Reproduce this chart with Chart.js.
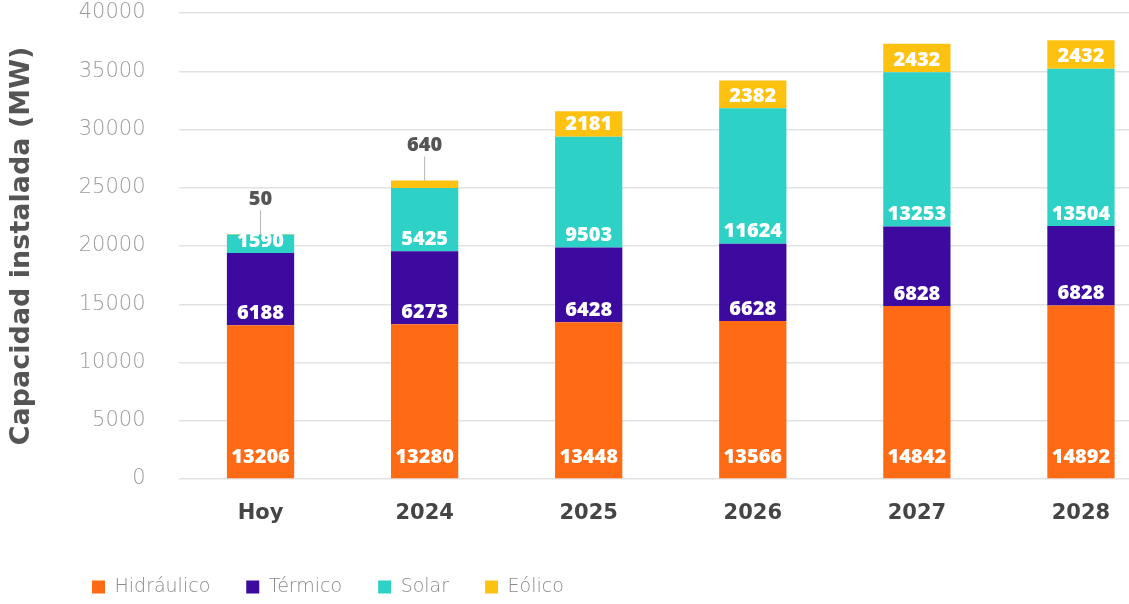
<!DOCTYPE html>
<html>
<head>
<meta charset="utf-8">
<script src="https://cdn.jsdelivr.net/npm/chart.js@4.4.1/dist/chart.umd.min.js"></script>
<style>
  html, body { margin: 0; padding: 0; background: #fff; overflow: hidden; }
  #wrap { position: relative; width: 1175px; height: 604px; }
</style>
</head>
<body>
<div id="wrap"><canvas id="c"></canvas></div>
<script>
const categories = ['Hoy', '2024', '2025', '2026', '2027', '2028'];
const hidraulico = [13206, 13280, 13448, 13566, 14842, 14892];
const termico    = [6188, 6273, 6428, 6628, 6828, 6828];
const solar      = [1590, 5425, 9503, 11624, 13253, 13504];
const eolico     = [50, 640, 2181, 2382, 2432, 2432];
const seriesNames = ['Hidráulico', 'Térmico', 'Solar', 'Eólico'];
const yTicks = [0, 5000, 10000, 15000, 20000, 25000, 30000, 35000, 40000];
const yTitle = 'Capacidad instalada (MW)';

const colors = ['#FF6A14', '#3C0A9F', '#2DD1C6', '#FDC210'];

const barLabels = {
  id: 'barLabels',
  afterDatasetsDraw(chart) {
    const ctx = chart.ctx;
    ctx.save();
    ctx.textAlign = 'center';
    ctx.textBaseline = 'middle';
    chart.data.datasets.forEach((ds, di) => {
      const meta = chart.getDatasetMeta(di);
      meta.data.forEach((el, i) => {
        const v = ds.data[i];
        const h = el.base - el.y;
        if (h < 15) {
          ctx.strokeStyle = '#b5b5b5';
          ctx.lineWidth = 1;
          ctx.beginPath();
          ctx.moveTo(el.x, el.y);
          ctx.lineTo(el.x, el.y - 24);
          ctx.stroke();
          ctx.fillStyle = '#555555';
          ctx.font = '800 20px "Open Sans"';
          ctx.fillText(String(v), el.x, el.y - 35);
        } else {
          ctx.fillStyle = '#ffffff';
          ctx.font = '800 20px "Open Sans"';
          const off = di === 0 ? 21 : 12;
          ctx.fillText(String(v), el.x, el.base - off);
        }
      });
    });
    ctx.restore();
  }
};

const moveLegend = {
  id: 'moveLegend',
  afterLayout(chart) {
    const lg = chart.legend;
    if (lg) {
      lg.left = 56;
      lg.top = 541.5;
    }
  }
};

const data = {
  labels: categories,
  datasets: [hidraulico, termico, solar, eolico].map((arr, k) => ({
    label: seriesNames[k],
    data: arr,
    backgroundColor: colors[k],
    borderWidth: 0,
    categoryPercentage: 1,
    barPercentage: 0.41
  }))
};

new Chart(document.getElementById('c'), {
  type: 'bar',
  data,
  plugins: [barLabels, moveLegend],
  options: {
    responsive: true,
    maintainAspectRatio: false,
    animation: false,
    layout: { padding: { top: 13, right: 12, bottom: 0, left: 0 } },
    plugins: {
      tooltip: { enabled: false },
      legend: {
        position: 'bottom',
        align: 'start',
        labels: {
          boxWidth: 13,
          boxHeight: 13,
          padding: 36,
          color: '#8a8a8a',
          font: { family: '"DejaVu Sans"', size: 19, weight: 200 }
        }
      }
    },
    scales: {
      x: {
        stacked: true,
        grid: { display: false, drawTicks: false },
        border: { display: false },
        ticks: {
          color: '#454545',
          padding: 22,
          font: { family: '"DejaVu Sans"', size: 21, weight: 'bold' }
        },
        afterFit(s) { s.height = 604 - 479 - 65; }
      },
      y: {
        stacked: true,
        min: 0,
        max: 40000,
        afterBuildTicks(s) { s.ticks = yTicks.map(v => ({ value: v })); },
        grid: { color: '#e2e2e2', lineWidth: 1.5, drawTicks: true, tickLength: 33, tickColor: 'rgba(0,0,0,0)' },
        border: { display: false },
        ticks: {
          color: '#9c9c9c',
          padding: 0,
          font: { family: '"DejaVu Sans"', size: 21, weight: 200 },
          callback: v => String(v)
        },
        title: {
          display: true,
          text: yTitle,
          color: '#555555',
          padding: { top: 6, bottom: 0 },
          font: { family: '"DejaVu Sans"', size: 27, weight: 'bold' }
        },
        afterFit(s) { s.width = 178.5; }
      }
    }
  }
});
</script>
</body>
</html>
